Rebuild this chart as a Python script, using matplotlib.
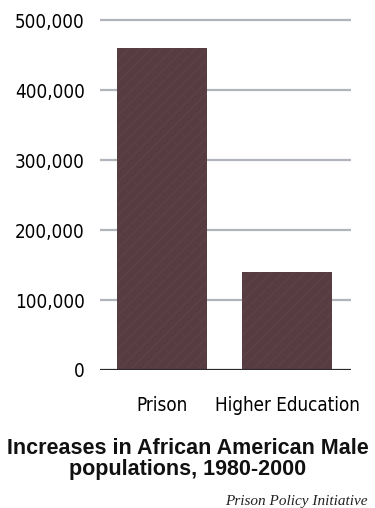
import matplotlib.pyplot as plt
from matplotlib.ticker import FuncFormatter

# increase in population, 1980-2000
categories = ["Prison", "Higher Education"]
increases = [460000, 140000]
y_ticks = [0, 100000, 200000, 300000, 400000, 500000]

title = "Increases in African American Male\npopulations, 1980-2000"
source = "Prison Policy Initiative"

bar_color = '#573c42'
plt.rcParams['hatch.linewidth'] = 0.4

fig = plt.figure(figsize=(3.75, 5.08), dpi=100)
ax = fig.add_axes([0.267, 0.2717, 0.669, 0.716])

x = range(len(categories))
ax.bar(x, increases, width=0.717, color=bar_color, zorder=2)
# faint diagonal texture on the bars
ax.bar(x, increases, width=0.717, color='none', edgecolor='#64494f',
       hatch='///', linewidth=0, zorder=3)

ax.set_ylim(0, 520000)
ax.set_xlim(-0.49, 1.51)
ax.set_yticks(y_ticks)
ax.yaxis.set_major_formatter(FuncFormatter(lambda v, p: f"{int(v):,}"))
ax.set_xticks(list(x))
ax.set_xticklabels(categories)

for gy in y_ticks[1:]:
    ax.axhline(gy, color='#b0b5bc', linewidth=1.6, zorder=1)
ax.axhline(0, color='#2a2a2a', linewidth=1.6, zorder=4)

for side in ['top', 'right', 'left', 'bottom']:
    ax.spines[side].set_visible(False)
ax.tick_params(axis='both', length=0)
ax.tick_params(axis='y', pad=11)
ax.tick_params(axis='x', pad=19)
for lbl in ax.get_yticklabels() + ax.get_xticklabels():
    lbl.set_family('DejaVu Sans')
    lbl.set_stretch('condensed')
    lbl.set_fontsize(13.5)
    lbl.set_color('#000000')

fig.text(0.5, 0.0965, title, ha='center', va='center', fontsize=15.5,
         fontweight='bold', family=['Liberation Sans', 'DejaVu Sans'],
         linespacing=1.0, color='#111111')
fig.text(0.981, 0.006, source, ha='right', va='baseline', fontsize=11,
         style='italic', family=['Liberation Serif', 'DejaVu Serif'],
         color='#222222')

fig.savefig("out.png", dpi=100)
